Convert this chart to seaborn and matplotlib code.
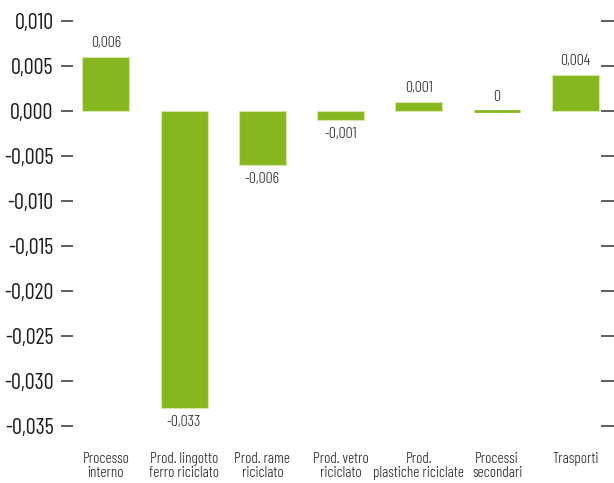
import matplotlib
matplotlib.use("Agg")
import matplotlib.pyplot as plt
from matplotlib import font_manager
import seaborn as sns
import pandas as pd

categories = [
    "Processo\ninterno",
    "Prod. lingotto\nferro riciclato",
    "Prod. rame\nriciclato",
    "Prod. vetro\nriciclato",
    "Prod.\nplastiche riciclate",
    "Processi\nsecondari",
    "Trasporti",
]
values = [0.006, -0.033, -0.006, -0.001, 0.001, 0.0, 0.004]
value_labels = ["0,006", "-0,033", "-0,006", "-0,001", "0,001", "0", "0,004"]
y_ticks = [0.010, 0.005, 0.000, -0.005, -0.010, -0.015, -0.020, -0.025, -0.030, -0.035]
y_tick_labels = ["0,010", "0,005", "0,000", "-0,005", "-0,010", "-0,015",
                 "-0,020", "-0,025", "-0,030", "-0,035"]

sns.set_theme(style="white")

# condensed faces, in order of preference
available = {e.fname.split("/")[-1]: e.fname for e in font_manager.fontManager.ttflist}


def pick(files):
    return next((available[f] for f in files if f in available), None)


light_path = pick(["BarlowCondensed-Light.ttf", "BarlowCondensed-Regular.ttf",
                   "RobotoCondensed-Light.ttf", "RobotoCondensed-Regular.ttf",
                   "LiberationSansNarrow-Regular.ttf"])
regular_path = pick(["BarlowCondensed-Regular.ttf", "RobotoCondensed-Regular.ttf",
                     "LiberationSansNarrow-Regular.ttf"]) or light_path


def fp(size, path=None):
    path = path or light_path
    if path:
        return font_manager.FontProperties(fname=path, size=size)
    return font_manager.FontProperties(family=["Liberation Sans", "DejaVu Sans"], size=size * 0.8)


df = pd.DataFrame({"categoria": categories, "valore": values})

fig = plt.figure(figsize=(6.14, 4.83), dpi=100)
ax = fig.add_axes([0.1189, 0.118, 0.860, 0.8385])

green = "#86b71e"
sns.barplot(data=df, x="categoria", y="valore", color=green, width=0.6,
            saturation=1, ax=ax)
for patch in ax.patches:
    patch.set_edgecolor("#d6e8a8")
    patch.set_linewidth(0.8)
# the zero-valued bar is shown as a thin green line on the baseline
zero_patch = ax.patches[values.index(0.0)]
zero_patch.set_edgecolor(green)
zero_patch.set_linewidth(2.0)

for i, (v, lab) in enumerate(zip(values, value_labels)):
    off, va = (5, "bottom") if v >= 0 else (-5, "top")
    ax.annotate(lab, (i, v), xytext=(0, off), textcoords="offset points",
                ha="center", va=va, fontproperties=fp(11.5), color="#1e1e1e")

ax.set_xlim(-0.42, 6.33)
ax.set_ylim(-0.035, 0.010)
ax.set_yticks(y_ticks)
ax.set_yticklabels(y_tick_labels, color="#1e1e1e")
for t in ax.get_yticklabels():
    t.set_fontproperties(fp(16, regular_path))
ax.tick_params(axis="y", which="both", left=True, right=True, direction="out",
               length=9, width=1.1, color="#333333", pad=5)
ax.tick_params(axis="x", bottom=False, pad=13, labelcolor="#1e1e1e")
for t in ax.get_xticklabels():
    t.set_fontproperties(fp(11))
    t.set_linespacing(1.0)
    t.set_multialignment("center")
ax.set_xlabel("")
ax.set_ylabel("")
for s in ax.spines.values():
    s.set_visible(False)

fig.savefig("out.png", dpi=100)
